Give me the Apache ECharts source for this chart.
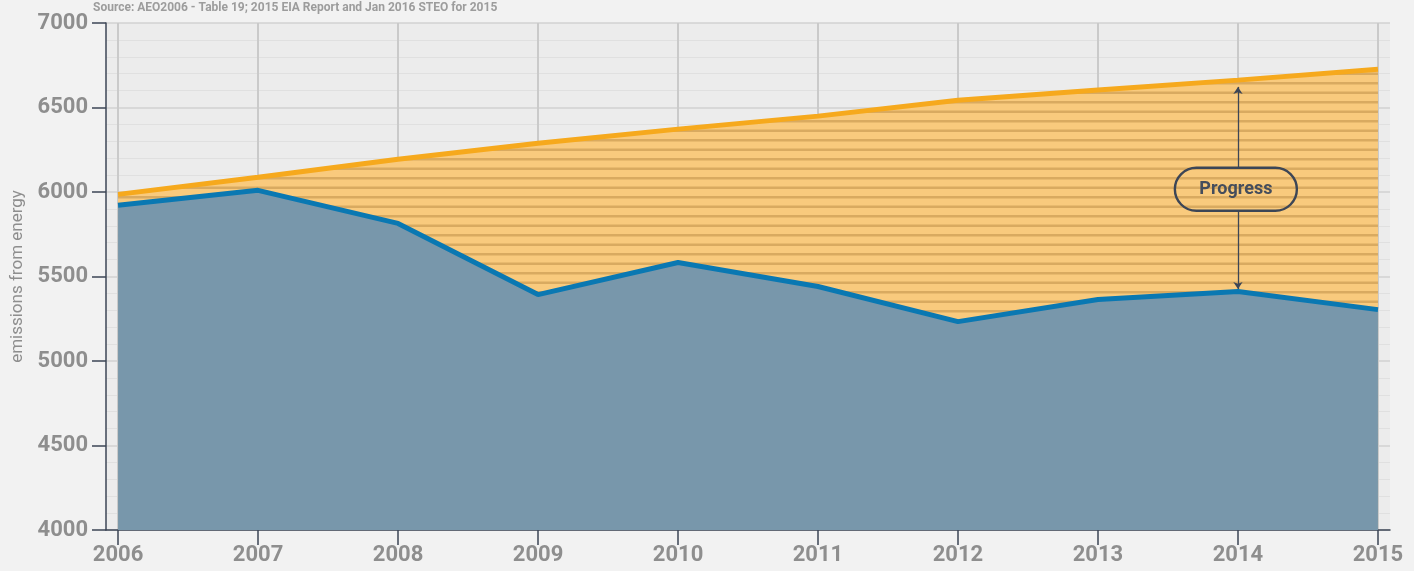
<!DOCTYPE html>
<html><head><meta charset="utf-8">
<script src="https://cdn.jsdelivr.net/npm/echarts@6/dist/echarts.min.js"></script>
<style>html,body{margin:0;padding:0;background:#f2f2f2;}#c{width:1414px;height:571px;}</style>
</head><body><div id="c"></div>
<script>
const years = [2006, 2007, 2008, 2009, 2010, 2011, 2012, 2013, 2014, 2015];
const projected = [5986, 6087, 6194, 6289, 6372, 6449, 6543, 6603, 6662, 6727];
const actual = [5921, 6010, 5814, 5393, 5583, 5441, 5233, 5364, 5411, 5304];
const sourceText = 'Source: AEO2006 - Table 19; 2015 EIA Report and Jan 2016 STEO for 2015';
const yAxisName = 'emissions from energy';
const annotationLabel = 'Progress';
const annotationYear = 2014;

const pc = document.createElement('canvas');
pc.width = 8; pc.height = 19;
const g = pc.getContext('2d');
g.fillStyle = '#f9ca7d'; g.fillRect(0, 0, 8, 19);
g.fillStyle = '#d9aa60'; g.fillRect(0, 6, 8, 2.5); g.fillRect(0, 15.5, 8, 2.5);

const chart = echarts.init(document.getElementById('c'));
const font = 'Roboto, "DejaVu Sans", sans-serif';
const iA = years.indexOf(annotationYear);
chart.setOption({
  backgroundColor: '#f2f2f2',
  animation: false,
  title: { text: sourceText, left: 88, top: -3, textStyle: { fontSize: 12, fontWeight: 'bold', color: '#9c9c9c', fontFamily: font } },
  grid: { left: 106, right: 24, top: 23, bottom: 41, show: true, backgroundColor: '#ececec', borderWidth: 0, containLabel: false, outerBoundsMode: 'none' },
  xAxis: {
    type: 'value', min: 2005.914, max: 2015.086,
    axisLine: { show: true, onZero: false, lineStyle: { color: '#3d4656', width: 1.5 } },
    axisTick: { show: true, length: 15, customValues: years, lineStyle: { color: '#3d4656', width: 1.5 } },
    axisLabel: { customValues: years, formatter: v => String(Math.round(v)), fontSize: 22, color: '#8e8e8e', fontFamily: font, fontWeight: 'bold', margin: 14 },
    splitLine: { show: true, lineStyle: { color: '#cacaca', width: 2 } }
  },
  yAxis: {
    type: 'value', min: 4000, max: 7000, interval: 500,
    name: yAxisName, nameLocation: 'middle', nameGap: 80,
    nameTextStyle: { fontSize: 17, color: '#8e8e8e', fontFamily: font },
    axisLine: { show: true, lineStyle: { color: '#3d4656', width: 1.5 } },
    axisTick: { show: true, length: 14, lineStyle: { color: '#3d4656', width: 1.5 } },
    axisLabel: { formatter: v => String(v), fontSize: 22, color: '#8e8e8e', fontFamily: font, fontWeight: 'bold', margin: 18 },
    splitLine: { show: true, lineStyle: { color: '#d2d2d2', width: 1.5 } },
    minorTick: { show: false, splitNumber: 5 },
    minorSplitLine: { show: true, lineStyle: { color: '#e0e0e0', width: 1 } }
  },
  series: [
    {
      type: 'line', data: years.map((y, i) => [y, projected[i]]), symbol: 'none',
      lineStyle: { color: '#f6a91d', width: 5 },
      areaStyle: { color: { image: pc, repeat: 'repeat' }, opacity: 1, origin: 'start' },
      z: 2
    },
    {
      type: 'line', data: years.map((y, i) => [y, actual[i]]), symbol: 'none',
      lineStyle: { color: '#0a78b2', width: 5 },
      areaStyle: { color: '#7897ab', opacity: 1, origin: 'start' },
      z: 3,
      markLine: {
        silent: true, symbolSize: 7,
        lineStyle: { color: '#3d4656', width: 1.3, type: 'solid' },
        label: { show: false },
        data: [
          [{ coord: [annotationYear, 5885], symbol: 'none' }, { coord: [annotationYear, actual[iA] + 15], symbol: 'arrow' }],
          [{ coord: [annotationYear, 6146], symbol: 'none' }, { coord: [annotationYear, projected[iA] - 40], symbol: 'arrow' }]
        ]
      },
      markPoint: {
        silent: true, symbol: 'rect', symbolSize: 1,
        itemStyle: { color: 'transparent' },
        label: {
          show: true, position: 'inside', formatter: annotationLabel,
          fontSize: 18, fontWeight: 'bold', color: '#454d5c', fontFamily: font,
          borderColor: '#3d4656', borderWidth: 1.2, borderRadius: 22,
          width: 122, height: 43, lineHeight: 43, align: 'center', verticalAlign: 'middle',
          backgroundColor: 'transparent'
        },
        data: [{ coord: [annotationYear - 0.015, 6016] }]
      }
    }
  ]
});
</script></body></html>
